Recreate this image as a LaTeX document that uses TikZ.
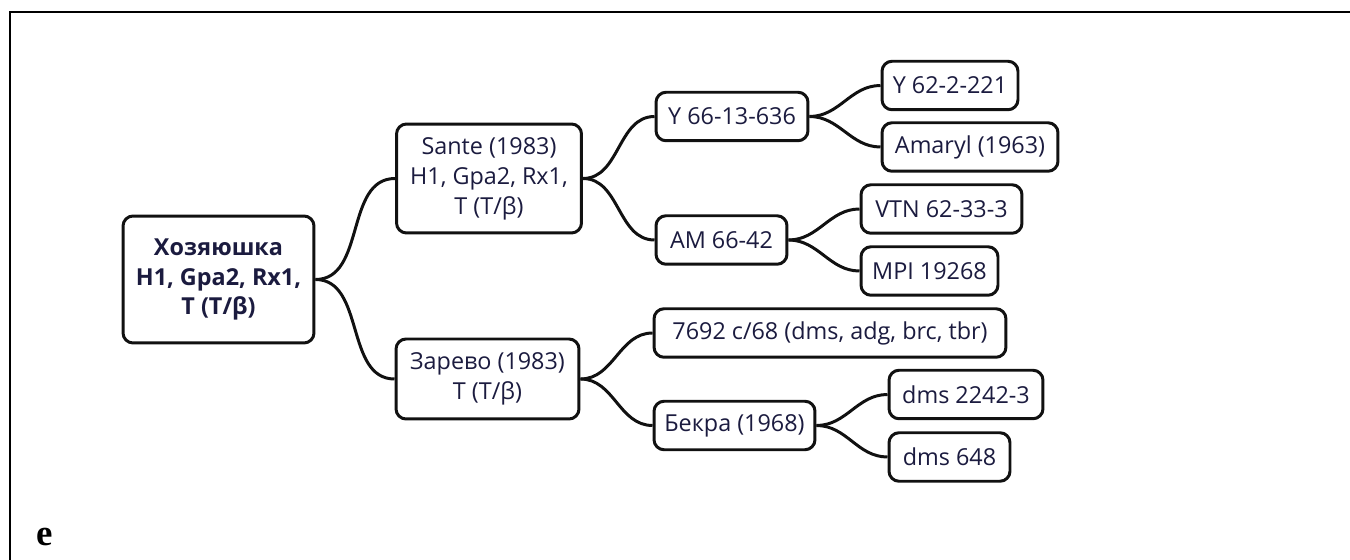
\documentclass[tikz,border=0pt]{standalone}
\usepackage{fontspec}
\usepackage{tikz}
\usetikzlibrary{positioning, calc}
\newfontfamily\boxfont{Open Sans}
\newfontfamily\panelfont{Liberation Serif}
\definecolor{cInk}  {HTML}{1B1B3F}
\definecolor{cEdge} {HTML}{111111}

\begin{document}
\begin{tikzpicture}[x=0.02cm, y=-0.02cm,
    cultivar/.style={draw=cEdge, line width=1.7pt, rounded corners=0.2cm, fill=white,
      text=cInk, font=\boxfont\fontsize{13.3}{17}\selectfont, align=center,
      inner sep=0pt, minimum height=0.97cm},
    branch/.style={draw=cEdge, line width=1.7pt, out=0, in=180},
  ]
  \useasboundingbox (0,0) rectangle (1350,560);
  % panel frame
  \draw[line width=0.85pt] (1350,12) -- (10,12) -- (10,560);
  \node[font=\panelfont\bfseries\fontsize{21}{24}\selectfont] (panel) at (45,537) {e};

  % root
  \node[cultivar, font=\boxfont\bfseries\fontsize{13.3}{17}\selectfont,
        minimum width=3.82cm, minimum height=2.54cm] (root) at (218.5,279.5)
        {Хозяюшка\\H1, Gpa2, Rx1,\\T (T/β)};

  % parents
  \node[cultivar, minimum width=3.70cm, minimum height=2.18cm] (sante) at (489,178.5)
        {Sante (1983)\\H1, Gpa2, Rx1,\\T (T/β)};
  \node[cultivar, minimum width=3.66cm, minimum height=1.60cm] (zarevo) at (487.5,379)
        {Зарево (1983)\\T (T/β)};

  % grandparents
  \node[cultivar, minimum width=3.04cm] (y66)   at (732,116.5) {Y 66-13-636};
  \node[cultivar, minimum width=2.62cm] (am66)  at (721.5,240) {AM 66-42};
  \node[cultivar, minimum width=7.04cm] (c7692) at (830,333)   {7692 c/68 (dms, adg, brc, tbr)};
  \node[cultivar, minimum width=3.22cm] (bekra) at (734.5,425.5) {Бекра (1968)};

  % great-grandparents
  \node[cultivar, minimum width=2.72cm] (y62)     at (950,85.5)  {Y 62-2-221};
  \node[cultivar, minimum width=3.52cm] (amaryl)  at (970,147)   {Amaryl (1963)};
  \node[cultivar, minimum width=3.22cm] (vtn)     at (941.5,209) {VTN 62-33-3};
  \node[cultivar, minimum width=2.74cm] (mpi)     at (929.5,271) {MPI 19268};
  \node[cultivar, minimum width=3.08cm] (dms2242) at (966,394.5) {dms 2242-3};
  \node[cultivar, minimum width=2.42cm] (dms648)  at (949.5,457) {dms 648};

  \foreach \a/\b in {root/sante, root/zarevo, sante/y66, sante/am66,
                     zarevo/c7692, zarevo/bekra, y66/y62, y66/amaryl,
                     am66/vtn, am66/mpi, bekra/dms2242, bekra/dms648}
    \draw[branch] (\a.east) to (\b.west);
\end{tikzpicture}
\end{document}
